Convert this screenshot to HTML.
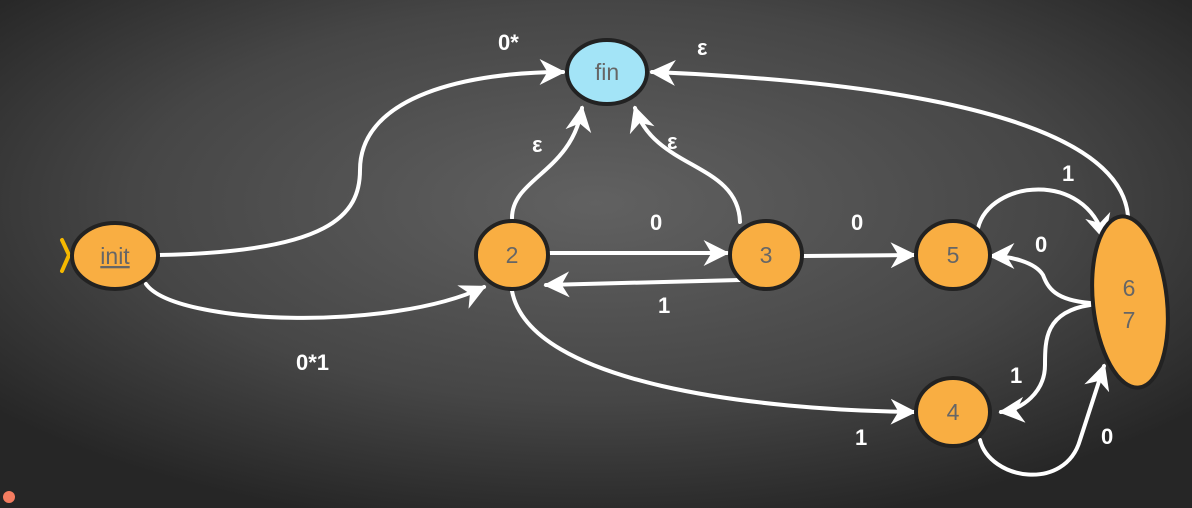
<!DOCTYPE html>
<html><head><style>
html,body{margin:0;padding:0;width:1192px;height:508px;overflow:hidden;background:#333}
svg{display:block}
.l{fill:#fff;font-family:"Liberation Sans",sans-serif;font-size:22px;font-weight:bold}
.n{fill:#666;font-family:"Liberation Sans",sans-serif;font-size:23px}
</style></head><body>
<svg width="1192" height="508" viewBox="0 0 1192 508">
<defs>
<radialGradient id="bg" cx="50%" cy="40%" r="65%">
<stop offset="0" stop-color="#616161"/><stop offset="0.6" stop-color="#464646"/><stop offset="1" stop-color="#262626"/>
</radialGradient>
<marker id="a" viewBox="0 0 10 10" refX="9" refY="5" markerWidth="6.5" markerHeight="6.5" orient="auto" markerUnits="strokeWidth">
<path d="M0,0 L10,5 L0,10 L3,5 Z" fill="#fff"/>
</marker>
</defs>
<rect width="1192" height="508" fill="url(#bg)"/>
<g fill="none" stroke="#fff" stroke-width="4" stroke-linecap="round" marker-end="url(#a)">
<path d="M158,255 C330,252 360,215 360,170 C360,95 470,72 563,72"/>
<path d="M146,284 C175,325 390,332 484,287"/>
<path d="M512,218 C512,178 572,172 582,108"/>
<path d="M740,222 C738,162 655,170 635,108"/>
<path d="M549,253 L727,253"/>
<path d="M740,280 L546,285"/>
<path d="M804,256 L914,255"/>
<path d="M512,291 C530,385 760,410 914,412"/>
<path d="M1128,216 C1118,100 800,78 652,72"/>
<path d="M978,228 C990,180 1085,170 1104,238"/>
<path d="M1090,303 C1055,300 1048,288 1043,275 C1035,262 1010,256 991,256"/>
<path d="M1090,305 C1045,312 1045,340 1045,365 C1045,392 1022,410 1001,412"/>
<path d="M980,440 C990,480 1065,492 1080,440 L1104,366"/>
</g>
<path d="M62,240 L69,255 L62,271" fill="none" stroke="#f5b800" stroke-width="4" stroke-linecap="round"/>
<g stroke="#222" stroke-width="4">
<ellipse cx="115" cy="256" rx="43" ry="33" fill="#f9ae42"/>
<ellipse cx="607" cy="72" rx="40" ry="32" fill="#a3e4f7"/>
<ellipse cx="512" cy="255" rx="36" ry="34" fill="#f9ae42"/>
<ellipse cx="766" cy="255" rx="36" ry="34" fill="#f9ae42"/>
<ellipse cx="953" cy="255" rx="37" ry="34" fill="#f9ae42"/>
<ellipse cx="953" cy="412" rx="37" ry="34" fill="#f9ae42"/>
<ellipse cx="1130" cy="302" rx="37" ry="86" fill="#f9ae42" transform="rotate(-6 1130 302)"/>
</g>
<text x="115" y="264" class="n" text-anchor="middle" text-decoration="underline">init</text>
<text x="607" y="80" class="n" text-anchor="middle">fin</text>
<text x="512" y="263" class="n" text-anchor="middle">2</text>
<text x="766" y="263" class="n" text-anchor="middle">3</text>
<text x="953" y="263" class="n" text-anchor="middle">5</text>
<text x="953" y="420" class="n" text-anchor="middle">4</text>
<text x="1129" y="296" class="n" text-anchor="middle">6</text>
<text x="1129" y="328" class="n" text-anchor="middle">7</text>
<text x="498" y="50" class="l">0*</text>
<text x="697" y="55" class="l">ε</text>
<text x="532" y="152" class="l">ε</text>
<text x="667" y="149" class="l">ε</text>
<text x="650" y="230" class="l">0</text>
<text x="658" y="313" class="l">1</text>
<text x="851" y="230" class="l">0</text>
<text x="1062" y="181" class="l">1</text>
<text x="1035" y="252" class="l">0</text>
<text x="1010" y="383" class="l">1</text>
<text x="1101" y="444" class="l">0</text>
<text x="855" y="445" class="l">1</text>
<text x="296" y="370" class="l">0*1</text>
<circle cx="9" cy="497" r="6" fill="#f47c60"/>
</svg>
</body></html>
